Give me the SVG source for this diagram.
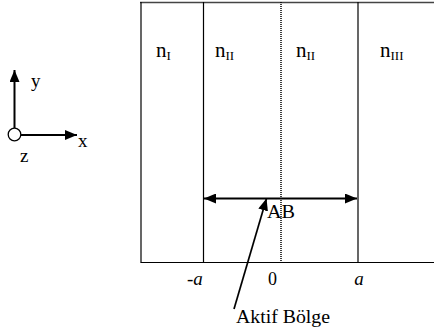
<svg xmlns="http://www.w3.org/2000/svg" width="434" height="334" viewBox="0 0 434 334">
<style>
text{font-family:'Times New Roman','Liberation Serif',serif;fill:#000}
.ln{stroke:#000;stroke-width:1.2;fill:none}
.ar{stroke:#000;stroke-width:2;fill:none}
</style>
<defs>
<marker id="ah" viewBox="0 0 12 10" refX="12" refY="5" markerWidth="12" markerHeight="10" markerUnits="userSpaceOnUse" orient="auto-start-reverse">
<path d="M0,0 L12,5 L0,10 Z" fill="#000"/>
</marker>
</defs>
<rect width="434" height="334" fill="#fff"/>
<g id="axes">
<line class="ar" x1="14.5" y1="128" x2="14.5" y2="70" marker-end="url(#ah)"/>
<line class="ar" x1="21" y1="135" x2="77" y2="135" marker-end="url(#ah)"/>
<circle cx="14.5" cy="134.5" r="6.3" fill="#fff" stroke="#000" stroke-width="1.3"/>
<text x="31" y="87" font-size="19">y</text>
<text x="78" y="147" font-size="19">x</text>
<text x="20" y="162" font-size="19">z</text>
</g>
<g id="structure">
<line x1="140" y1="2.5" x2="434" y2="2.5" stroke="#444" stroke-width="1.6"/>
<line class="ln" x1="141" y1="2" x2="141" y2="262.5"/>
<line class="ln" x1="140.5" y1="262.5" x2="434" y2="262.5"/>
<line class="ln" x1="203.5" y1="2" x2="203.5" y2="262.5"/>
<line class="ln" x1="358" y1="2" x2="358" y2="262.5"/>
<line x1="281" y1="2" x2="281" y2="262.5" stroke="#000" stroke-width="1.5" stroke-dasharray="1 1"/>
</g>
<g id="labels">
<text x="156" y="57" font-size="21">n<tspan font-size="13" dy="3">I</tspan></text>
<text x="215" y="57" font-size="21">n<tspan font-size="13" dy="3">II</tspan></text>
<text x="296" y="57" font-size="21">n<tspan font-size="13" dy="3">II</tspan></text>
<text x="380" y="57" font-size="21">n<tspan font-size="13" dy="3">III</tspan></text>
<text x="187" y="285" font-size="19">-<tspan font-style="italic">a</tspan></text>
<text x="272.5" y="285" font-size="18" text-anchor="middle">0</text>
<text x="359" y="285" font-size="19" text-anchor="middle" font-style="italic">a</text>
</g>
<g id="connectors">
<line class="ar" x1="204" y1="198.5" x2="357" y2="198.5" marker-start="url(#ah)" marker-end="url(#ah)"/>
<line x1="234" y1="309" x2="266.5" y2="198.5" stroke="#000" stroke-width="1.7" marker-end="url(#ah)"/>
</g>
<g id="ab">
<text x="267" y="218" font-size="19" textLength="28" lengthAdjust="spacingAndGlyphs">AB</text>
</g>
<g id="aktif">
<text x="236" y="323" font-size="19" textLength="94" lengthAdjust="spacingAndGlyphs">Aktif Bölge</text>
</g>
</svg>
